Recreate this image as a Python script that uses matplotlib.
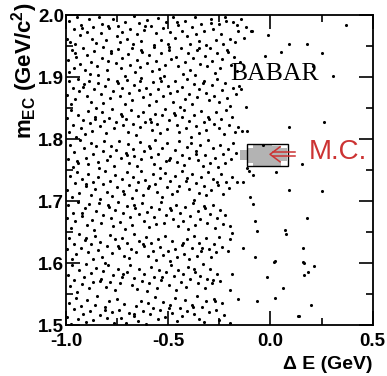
import numpy as np
import matplotlib
matplotlib.use('Agg')
import matplotlib.pyplot as plt
from matplotlib.patches import Rectangle
from matplotlib.colors import ListedColormap
from matplotlib.ticker import MultipleLocator, FormatStrFormatter

plt.rcParams['font.family'] = ['Liberation Sans', 'DejaVu Sans']
plt.rcParams['font.weight'] = 'bold'
plt.rcParams['axes.unicode_minus'] = False
plt.rcParams['mathtext.fontset'] = 'custom'
plt.rcParams['mathtext.rm'] = 'Liberation Sans:bold'
plt.rcParams['mathtext.it'] = 'Liberation Sans:bold'
plt.rcParams['mathtext.bf'] = 'Liberation Sans:bold'

# candidates (Delta E [GeV], m_EC [GeV/c^2]), grouped in slices of m_EC
pts_195 = [(-0.995, 1.962), (-0.985, 1.991), (-0.978, 1.957), (-0.962, 1.977), (-0.958, 1.953), (-0.947, 1.996),
           (-0.931, 1.968), (-0.926, 1.984), (-0.924, 1.979), (-0.897, 1.973), (-0.889, 1.993), (-0.872, 1.962),
           (-0.866, 1.981), (-0.851, 1.955), (-0.838, 1.997), (-0.829, 1.971), (-0.822, 1.986), (-0.804, 1.959),
           (-0.791, 1.979), (-0.795, 1.983), (-0.771, 1.994), (-0.752, 1.966), (-0.746, 1.983), (-0.738, 1.956),
           (-0.724, 1.973), (-0.709, 1.989), (-0.703, 1.961), (-0.688, 1.978), (-0.672, 1.953), (-0.669, 1.998),
           (-0.655, 1.969), (-0.642, 1.987), (-0.631, 1.958), (-0.619, 1.976), (-0.604, 1.992), (-0.612, 1.982),
           (-0.583, 1.982), (-0.571, 1.951), (-0.562, 1.971), (-0.548, 1.995), (-0.536, 1.960), (-0.527, 1.979),
           (-0.512, 1.988), (-0.503, 1.954), (-0.489, 1.972), (-0.477, 1.997), (-0.468, 1.963), (-0.452, 1.984),
           (-0.455, 1.989), (-0.433, 1.975), (-0.418, 1.991), (-0.406, 1.966), (-0.394, 1.953), (-0.386, 1.980),
           (-0.371, 1.996), (-0.362, 1.969), (-0.349, 1.958), (-0.338, 1.986), (-0.326, 1.974), (-0.317, 1.952),
           (-0.293, 1.987), (-0.291, 1.993), (-0.283, 1.978), (-0.268, 1.959), (-0.254, 1.985), (-0.243, 1.970),
           (-0.231, 1.954), (-0.222, 1.996), (-0.218, 1.990), (-0.196, 1.962), (-0.183, 1.988), (-0.171, 1.956),
           (-0.158, 1.974), (-0.146, 1.993), (-0.131, 1.963), (-0.118, 1.981), (-0.095, 1.975)]

pts_190 = [(-0.992, 1.927), (-0.984, 1.908), (-0.973, 1.944), (-0.961, 1.915), (-0.953, 1.933), (-0.956, 1.938),
           (-0.932, 1.921), (-0.918, 1.947), (-0.909, 1.911), (-0.897, 1.936), (-0.881, 1.905), (-0.876, 1.924),
           (-0.862, 1.942), (-0.848, 1.917), (-0.841, 1.903), (-0.826, 1.931), (-0.817, 1.948), (-0.801, 1.912),
           (-0.795, 1.926), (-0.778, 1.939), (-0.781, 1.942), (-0.757, 1.922), (-0.744, 1.945), (-0.733, 1.914),
           (-0.726, 1.930), (-0.711, 1.901), (-0.698, 1.937), (-0.686, 1.919), (-0.677, 1.946), (-0.664, 1.908),
           (-0.653, 1.928), (-0.639, 1.916), (-0.628, 1.941), (-0.633, 1.944), (-0.606, 1.923), (-0.593, 1.935),
           (-0.581, 1.910), (-0.569, 1.949), (-0.558, 1.926), (-0.545, 1.913), (-0.533, 1.938), (-0.521, 1.902),
           (-0.514, 1.920), (-0.498, 1.944), (-0.487, 1.929), (-0.494, 1.948), (-0.463, 1.933), (-0.452, 1.918),
           (-0.439, 1.947), (-0.428, 1.905), (-0.417, 1.925), (-0.403, 1.939), (-0.392, 1.912), (-0.381, 1.930),
           (-0.368, 1.903), (-0.357, 1.943), (-0.344, 1.921), (-0.351, 1.946), (-0.321, 1.934), (-0.309, 1.917),
           (-0.297, 1.946), (-0.286, 1.926), (-0.272, 1.906), (-0.261, 1.938), (-0.247, 1.915), (-0.236, 1.929),
           (-0.213, 1.944), (-0.207, 1.941), (-0.192, 1.920), (-0.178, 1.933), (-0.163, 1.909), (-0.148, 1.925)]

pts_185 = [(-0.996, 1.871), (-0.987, 1.893), (-0.975, 1.856), (-0.967, 1.883), (-0.954, 1.865), (-0.943, 1.897),
           (-0.936, 1.878), (-0.917, 1.884), (-0.913, 1.888), (-0.899, 1.869), (-0.886, 1.894), (-0.878, 1.860),
           (-0.865, 1.880), (-0.853, 1.850), (-0.842, 1.891), (-0.831, 1.873), (-0.818, 1.858), (-0.807, 1.885),
           (-0.796, 1.896), (-0.784, 1.866), (-0.772, 1.877), (-0.752, 1.893), (-0.748, 1.890), (-0.736, 1.870),
           (-0.728, 1.882), (-0.713, 1.857), (-0.701, 1.895), (-0.692, 1.875), (-0.679, 1.863), (-0.666, 1.887),
           (-0.638, 1.893), (-0.643, 1.879), (-0.632, 1.898), (-0.621, 1.867), (-0.609, 1.883), (-0.596, 1.855),
           (-0.587, 1.873), (-0.574, 1.892), (-0.561, 1.862), (-0.551, 1.880), (-0.538, 1.898), (-0.526, 1.869),
           (-0.534, 1.894), (-0.502, 1.886), (-0.491, 1.875), (-0.479, 1.860), (-0.466, 1.893), (-0.455, 1.878),
           (-0.443, 1.851), (-0.431, 1.884), (-0.419, 1.865), (-0.408, 1.896), (-0.396, 1.872), (-0.383, 1.856),
           (-0.372, 1.889), (-0.361, 1.868), (-0.348, 1.881), (-0.328, 1.890), (-0.324, 1.894), (-0.313, 1.874),
           (-0.299, 1.863), (-0.288, 1.887), (-0.276, 1.870), (-0.263, 1.897), (-0.251, 1.859), (-0.239, 1.879),
           (-0.224, 1.891), (-0.212, 1.866), (-0.197, 1.854), (-0.185, 1.883), (-0.169, 1.872), (-0.142, 1.880)]

pts_180 = [(-0.994, 1.834), (-0.983, 1.812), (-0.976, 1.847), (-0.964, 1.823), (-0.952, 1.804), (-0.941, 1.839),
           (-0.929, 1.818), (-0.917, 1.830), (-0.905, 1.808), (-0.893, 1.845), (-0.884, 1.826), (-0.871, 1.813),
           (-0.859, 1.836), (-0.856, 1.832), (-0.836, 1.821), (-0.824, 1.843), (-0.812, 1.829), (-0.803, 1.810),
           (-0.789, 1.834), (-0.777, 1.848), (-0.766, 1.817), (-0.754, 1.827), (-0.727, 1.837), (-0.731, 1.840),
           (-0.719, 1.822), (-0.707, 1.833), (-0.695, 1.811), (-0.683, 1.846), (-0.671, 1.825), (-0.659, 1.807),
           (-0.648, 1.837), (-0.637, 1.819), (-0.624, 1.844), (-0.613, 1.828), (-0.584, 1.828), (-0.589, 1.832),
           (-0.578, 1.815), (-0.566, 1.841), (-0.553, 1.824), (-0.541, 1.809), (-0.529, 1.838), (-0.518, 1.849),
           (-0.506, 1.816), (-0.494, 1.831), (-0.467, 1.838), (-0.471, 1.842), (-0.458, 1.823), (-0.446, 1.812),
           (-0.434, 1.835), (-0.422, 1.847), (-0.411, 1.818), (-0.398, 1.829), (-0.387, 1.804), (-0.374, 1.839),
           (-0.362, 1.821), (-0.351, 1.810), (-0.339, 1.845), (-0.327, 1.827), (-0.315, 1.814), (-0.303, 1.836),
           (-0.300, 1.832), (-0.278, 1.824), (-0.266, 1.843), (-0.254, 1.817), (-0.241, 1.833), (-0.229, 1.808),
           (-0.216, 1.846), (-0.203, 1.822), (-0.189, 1.835), (-0.174, 1.811)]

pts_175 = [(-0.988, 1.768), (-0.979, 1.791), (-0.966, 1.755), (-0.960, 1.779), (-0.945, 1.764), (-0.933, 1.798),
           (-0.940, 1.762), (-0.912, 1.785), (-0.901, 1.770), (-0.890, 1.759), (-0.879, 1.794), (-0.870, 1.776),
           (-0.855, 1.789), (-0.843, 1.763), (-0.839, 1.753), (-0.821, 1.781), (-0.815, 1.796), (-0.800, 1.766),
           (-0.786, 1.772), (-0.780, 1.788), (-0.763, 1.757), (-0.756, 1.783), (-0.742, 1.797), (-0.731, 1.769),
           (-0.704, 1.775), (-0.708, 1.778), (-0.697, 1.792), (-0.690, 1.761), (-0.674, 1.784), (-0.665, 1.773),
           (-0.652, 1.756), (-0.640, 1.795), (-0.633, 1.767), (-0.617, 1.780), (-0.590, 1.785), (-0.594, 1.789),
           (-0.586, 1.771), (-0.571, 1.760), (-0.565, 1.798), (-0.549, 1.776), (-0.538, 1.754), (-0.530, 1.786),
           (-0.513, 1.765), (-0.507, 1.793), (-0.490, 1.770), (-0.494, 1.766), (-0.467, 1.783), (-0.459, 1.763),
           (-0.446, 1.797), (-0.433, 1.775), (-0.425, 1.758), (-0.410, 1.787), (-0.399, 1.769), (-0.388, 1.794),
           (-0.362, 1.776), (-0.366, 1.780), (-0.352, 1.766), (-0.343, 1.791), (-0.329, 1.757), (-0.318, 1.774),
           (-0.306, 1.799), (-0.295, 1.762), (-0.281, 1.785), (-0.273, 1.770), (-0.258, 1.755), (-0.247, 1.790),
           (-0.233, 1.776), (-0.222, 1.761), (-0.207, 1.784), (-0.194, 1.768), (-0.181, 1.793), (-0.170, 1.778)]

pts_170 = [(-0.993, 1.718), (-0.980, 1.741), (-0.972, 1.706), (-0.956, 1.729), (-0.948, 1.747), (-0.937, 1.713),
           (-0.923, 1.735), (-0.903, 1.728), (-0.900, 1.724), (-0.891, 1.744), (-0.877, 1.709), (-0.866, 1.731),
           (-0.858, 1.719), (-0.843, 1.738), (-0.835, 1.704), (-0.818, 1.727), (-0.809, 1.749), (-0.797, 1.715),
           (-0.785, 1.733), (-0.774, 1.708), (-0.760, 1.742), (-0.752, 1.722), (-0.722, 1.716), (-0.727, 1.736),
           (-0.715, 1.712), (-0.701, 1.746), (-0.694, 1.726), (-0.679, 1.705), (-0.670, 1.739), (-0.656, 1.717),
           (-0.646, 1.730), (-0.633, 1.748), (-0.621, 1.710), (-0.612, 1.734), (-0.598, 1.721), (-0.594, 1.725),
           (-0.575, 1.743), (-0.563, 1.728), (-0.554, 1.714), (-0.540, 1.737), (-0.528, 1.707), (-0.517, 1.745),
           (-0.505, 1.723), (-0.493, 1.732), (-0.483, 1.711), (-0.468, 1.740), (-0.457, 1.716), (-0.447, 1.725),
           (-0.433, 1.749), (-0.409, 1.737), (-0.412, 1.733), (-0.399, 1.720), (-0.386, 1.744), (-0.376, 1.702),
           (-0.362, 1.729), (-0.351, 1.713), (-0.340, 1.738), (-0.327, 1.724), (-0.315, 1.709), (-0.305, 1.747),
           (-0.290, 1.718), (-0.281, 1.735), (-0.260, 1.730), (-0.256, 1.726), (-0.243, 1.743), (-0.230, 1.712),
           (-0.217, 1.731), (-0.203, 1.721), (-0.190, 1.739)]

pts_165 = [(-0.996, 1.672), (-0.990, 1.693), (-0.977, 1.656), (-0.965, 1.681), (-0.957, 1.667), (-0.941, 1.699),
           (-0.924, 1.680), (-0.920, 1.676), (-0.908, 1.688), (-0.899, 1.661), (-0.886, 1.695), (-0.873, 1.670),
           (-0.864, 1.654), (-0.851, 1.684), (-0.840, 1.697), (-0.828, 1.664), (-0.817, 1.678), (-0.796, 1.694),
           (-0.792, 1.690), (-0.782, 1.673), (-0.768, 1.660), (-0.759, 1.686), (-0.746, 1.698), (-0.735, 1.666),
           (-0.723, 1.680), (-0.711, 1.655), (-0.700, 1.692), (-0.688, 1.675), (-0.676, 1.662), (-0.662, 1.689),
           (-0.666, 1.693), (-0.641, 1.679), (-0.628, 1.696), (-0.619, 1.668), (-0.604, 1.683), (-0.595, 1.658),
           (-0.582, 1.691), (-0.570, 1.674), (-0.559, 1.663), (-0.545, 1.687), (-0.536, 1.699), (-0.522, 1.665),
           (-0.511, 1.677), (-0.490, 1.689), (-0.486, 1.685), (-0.475, 1.671), (-0.464, 1.694), (-0.450, 1.659),
           (-0.440, 1.680), (-0.427, 1.667), (-0.416, 1.690), (-0.402, 1.655), (-0.392, 1.676), (-0.379, 1.697),
           (-0.368, 1.662), (-0.355, 1.684), (-0.345, 1.671), (-0.324, 1.692), (-0.320, 1.688), (-0.308, 1.665),
           (-0.297, 1.679), (-0.283, 1.694), (-0.272, 1.657), (-0.260, 1.673), (-0.247, 1.686), (-0.234, 1.663),
           (-0.221, 1.677)]

pts_160 = [(-0.994, 1.622), (-0.983, 1.640), (-0.971, 1.606), (-0.963, 1.631), (-0.950, 1.614), (-0.938, 1.646),
           (-0.926, 1.625), (-0.901, 1.641), (-0.905, 1.637), (-0.892, 1.618), (-0.880, 1.630), (-0.868, 1.607),
           (-0.857, 1.643), (-0.845, 1.621), (-0.832, 1.634), (-0.822, 1.610), (-0.809, 1.600), (-0.798, 1.628),
           (-0.787, 1.645), (-0.775, 1.616), (-0.762, 1.638), (-0.744, 1.628), (-0.740, 1.624), (-0.727, 1.641),
           (-0.716, 1.612), (-0.703, 1.632), (-0.693, 1.608), (-0.680, 1.623), (-0.668, 1.647), (-0.657, 1.617),
           (-0.644, 1.635), (-0.624, 1.631), (-0.620, 1.627), (-0.610, 1.642), (-0.597, 1.611), (-0.586, 1.633),
           (-0.574, 1.620), (-0.562, 1.605), (-0.551, 1.639), (-0.538, 1.626), (-0.527, 1.613), (-0.515, 1.644),
           (-0.503, 1.619), (-0.492, 1.603), (-0.480, 1.636), (-0.468, 1.622), (-0.457, 1.609), (-0.428, 1.633),
           (-0.432, 1.629), (-0.421, 1.615), (-0.409, 1.638), (-0.397, 1.606), (-0.385, 1.625), (-0.374, 1.643),
           (-0.361, 1.612), (-0.350, 1.633), (-0.338, 1.620), (-0.334, 1.624), (-0.313, 1.640), (-0.302, 1.623),
           (-0.289, 1.609), (-0.277, 1.631), (-0.264, 1.617), (-0.251, 1.642), (-0.238, 1.626)]

pts_155 = [(-0.992, 1.581), (-0.981, 1.563), (-0.969, 1.596), (-0.960, 1.572), (-0.946, 1.554), (-0.935, 1.588),
           (-0.924, 1.566), (-0.911, 1.578), (-0.902, 1.598), (-0.889, 1.559), (-0.877, 1.584), (-0.866, 1.569),
           (-0.853, 1.592), (-0.834, 1.571), (-0.830, 1.575), (-0.819, 1.587), (-0.806, 1.561), (-0.795, 1.596),
           (-0.784, 1.570), (-0.771, 1.581), (-0.760, 1.556), (-0.747, 1.590), (-0.736, 1.567), (-0.725, 1.578),
           (-0.721, 1.582), (-0.700, 1.586), (-0.689, 1.597), (-0.677, 1.564), (-0.665, 1.576), (-0.652, 1.558),
           (-0.642, 1.591), (-0.629, 1.571), (-0.617, 1.583), (-0.606, 1.555), (-0.593, 1.568), (-0.582, 1.594),
           (-0.570, 1.577), (-0.557, 1.560), (-0.546, 1.588), (-0.535, 1.573), (-0.531, 1.577), (-0.510, 1.585),
           (-0.498, 1.565), (-0.487, 1.597), (-0.474, 1.579), (-0.463, 1.557), (-0.451, 1.589), (-0.439, 1.570),
           (-0.428, 1.582), (-0.415, 1.562), (-0.403, 1.593), (-0.392, 1.574), (-0.372, 1.590), (-0.368, 1.586),
           (-0.356, 1.567), (-0.344, 1.579), (-0.332, 1.598), (-0.321, 1.560), (-0.308, 1.575), (-0.296, 1.590),
           (-0.284, 1.568), (-0.280, 1.572), (-0.259, 1.583), (-0.245, 1.571)]

pts_150 = [(-0.995, 1.513), (-0.986, 1.535), (-0.974, 1.502), (-0.962, 1.526), (-0.953, 1.544), (-0.940, 1.510),
           (-0.928, 1.531), (-0.917, 1.518), (-0.904, 1.505), (-0.895, 1.540), (-0.881, 1.523), (-0.870, 1.508),
           (-0.858, 1.533), (-0.847, 1.546), (-0.834, 1.516), (-0.807, 1.525), (-0.811, 1.529), (-0.800, 1.512),
           (-0.788, 1.538), (-0.775, 1.521), (-0.765, 1.504), (-0.752, 1.542), (-0.740, 1.525), (-0.729, 1.511),
           (-0.716, 1.534), (-0.705, 1.503), (-0.693, 1.520), (-0.665, 1.518), (-0.669, 1.514), (-0.657, 1.530),
           (-0.646, 1.507), (-0.633, 1.539), (-0.622, 1.522), (-0.610, 1.501), (-0.598, 1.536), (-0.587, 1.517),
           (-0.574, 1.528), (-0.563, 1.545), (-0.550, 1.509), (-0.539, 1.524), (-0.527, 1.537), (-0.515, 1.513),
           (-0.495, 1.528), (-0.491, 1.532), (-0.480, 1.519), (-0.467, 1.543), (-0.456, 1.506), (-0.444, 1.527),
           (-0.433, 1.515), (-0.420, 1.540), (-0.408, 1.522), (-0.381, 1.529), (-0.385, 1.533), (-0.372, 1.518),
           (-0.361, 1.546), (-0.349, 1.510), (-0.337, 1.529), (-0.326, 1.505), (-0.313, 1.538), (-0.301, 1.521),
           (-0.273, 1.538), (-0.277, 1.542), (-0.264, 1.525), (-0.252, 1.508), (-0.239, 1.535), (-0.226, 1.516)]

# isolated candidates towards the signal region and beyond
pts_tail = [(-0.01, 1.967), (0.09, 1.954), (0.05, 1.941), (0.18, 1.953), (0.25, 1.939), (0.37, 1.984),
            (-0.025, 1.934), (0.21, 1.917), (0.307, 1.902), (-0.162, 1.984), (-0.089, 1.975),
            (-0.12, 1.852), (-0.155, 1.885), (-0.157, 1.820), (-0.141, 1.813), (-0.116, 1.813),
            (0.092, 1.819), (0.263, 1.827), (-0.038, 1.791), (-0.113, 1.754), (-0.104, 1.748),
            (-0.085, 1.742), (0.156, 1.759), (0.027, 1.747), (-0.165, 1.730), (-0.136, 1.730),
            (-0.100, 1.707), (0.092, 1.718), (0.251, 1.716), (-0.087, 1.695), (-0.075, 1.667),
            (-0.067, 1.651), (0.071, 1.653), (0.177, 1.673), (-0.20, 1.660), (-0.19, 1.649),
            (-0.136, 1.624), (-0.075, 1.610), (0.017, 1.602), (0.161, 1.625), (0.075, 1.647),
            (-0.21, 1.620), (-0.20, 1.638), (0.021, 1.603), (0.161, 1.602), (0.163, 1.600),
            (0.214, 1.595), (0.182, 1.585), (0.164, 1.580), (-0.018, 1.577), (0.060, 1.560),
            (-0.20, 1.556), (-0.19, 1.582), (0.021, 1.544), (0.197, 1.532), (0.133, 1.515),
            (0.141, 1.515), (-0.067, 1.538), (-0.198, 1.503), (-0.16, 1.542)]

# Monte Carlo signal shape (occupied cells) and its box
mc_de_edges = [-0.15, -0.115, -0.085, 0.01, 0.05, 0.08]
mc_m_edges = [1.757, 1.761, 1.764, 1.766, 1.782, 1.786, 1.789, 1.792]
mc_cells = [[0, 0, 1, 1, 0],
            [0, 1, 1, 1, 0],
            [0, 1, 1, 1, 1],
            [1, 1, 1, 1, 1],
            [0, 1, 1, 1, 1],
            [0, 0, 1, 1, 0],
            [0, 0, 1, 0, 0]]
box_de = (-0.115, 0.085)
box_m = (1.7565, 1.7915)

# label arrow: tip, head depth/half-height, tail
arrow_tip = (-0.002, 1.7753)
arrow_head = (0.049, 0.0121)
arrow_tail = 0.120
arrow_gap = 0.0035

all_pts = np.array(pts_195 + pts_190 + pts_185 + pts_180 + pts_175 + pts_170 +
                   pts_165 + pts_160 + pts_155 + pts_150 + pts_tail)

fig = plt.figure(figsize=(3.87, 3.76), dpi=100)
ax = fig.add_axes([0.1705, 0.1356, 0.7925, 0.8245])

cells = np.ma.masked_equal(np.array(mc_cells), 0)
ax.pcolormesh(mc_de_edges, mc_m_edges, cells, cmap=ListedColormap(['#b3b3b3']),
              vmin=0.5, vmax=1.5, zorder=1)
ax.add_patch(Rectangle((box_de[0], box_m[0]), box_de[1] - box_de[0], box_m[1] - box_m[0],
                       fill=False, ec='black', lw=1.0, zorder=2))

ax.scatter(all_pts[:, 0], all_pts[:, 1], s=5, c='black', linewidths=0, zorder=3)

# double-shafted arrow pointing at the MC box
red = '#cc3333'
tx, ty = arrow_tip
hx, hy = arrow_head
ax.plot([tx + hx, tx, tx + hx], [ty + hy, ty, ty - hy], color=red, lw=1.1, zorder=4)
inner = tx + hx * arrow_gap / hy
for s in (-1, 1):
    ax.plot([inner, arrow_tail], [ty + s * arrow_gap] * 2, color=red, lw=1.1, zorder=4)

ax.text(0.188, 1.779, 'M.C.', color=red, fontsize=20, fontweight='normal',
        ha='left', va='center')
ax.text(0.022, 1.905, 'BABAR', family='Liberation Serif', fontweight='normal',
        fontsize=18.5, ha='center', va='center')

ax.set_xlim(-1.0, 0.5)
ax.set_ylim(1.5, 2.0)
ax.xaxis.set_major_locator(MultipleLocator(0.5))
ax.xaxis.set_minor_locator(MultipleLocator(0.25))
ax.yaxis.set_major_locator(MultipleLocator(0.1))
ax.yaxis.set_minor_locator(MultipleLocator(0.05))
ax.xaxis.set_major_formatter(FormatStrFormatter('%.1f'))
ax.yaxis.set_major_formatter(FormatStrFormatter('%.1f'))
ax.tick_params(which='both', direction='in', top=True, right=True, width=1.2, labelsize=13.5)
ax.tick_params(which='major', length=10)
ax.tick_params(which='minor', length=5)
ax.tick_params(axis='x', pad=6)
ax.tick_params(axis='y', pad=1.5)
for sp in ax.spines.values():
    sp.set_linewidth(1.3)

fig.text(0.963, 0.018, 'Δ E (GeV)', fontsize=14, ha='right', va='baseline')
fig.text(0.064, 0.992, r'$m_{EC}$ (GeV/c$^{2}$)', fontsize=16, rotation=90,
         ha='center', va='top')

fig.savefig('out.png', dpi=100)
